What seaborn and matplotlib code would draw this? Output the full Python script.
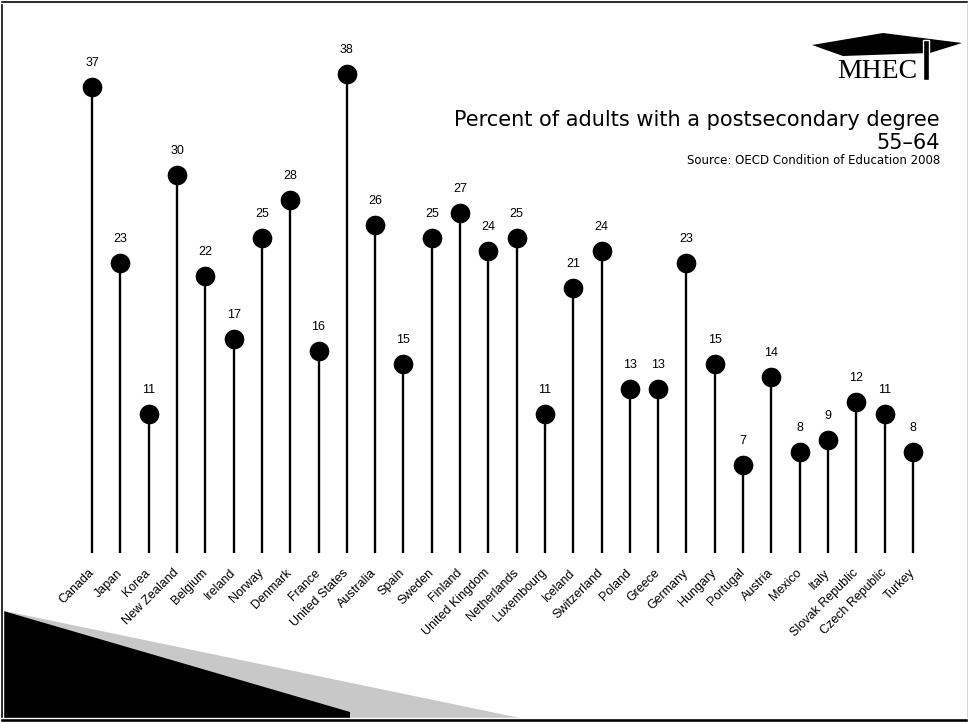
import numpy as np
import pandas as pd
import matplotlib
matplotlib.use("Agg")
import matplotlib.pyplot as plt
import seaborn as sns
from matplotlib.patches import Polygon, Rectangle

# === data ===
countries = ["Canada", "Japan", "Korea", "New Zealand", "Belgium", "Ireland", "Norway",
             "Denmark", "France", "United States", "Australia", "Spain", "Sweden",
             "Finland", "United Kingdom", "Netherlands", "Luxembourg", "Iceland",
             "Switzerland", "Poland", "Greece", "Germany", "Hungary", "Portugal",
             "Austria", "Mexico", "Italy", "Slovak Republic", "Czech Republic", "Turkey"]
values = [37, 23, 11, 30, 22, 17, 25, 28, 16, 38, 26, 15, 25, 27, 24, 25, 11, 21,
          24, 13, 13, 23, 15, 7, 14, 8, 9, 12, 11, 8]

title = "Percent of adults with a postsecondary degree"
subtitle = "55\u201364"
source = "Source: OECD Condition of Education 2008"

df = pd.DataFrame({"country": countries, "value": values})
df["pos"] = np.arange(len(df))

sns.set_style("white")
plt.rcParams["font.family"] = ["Liberation Sans", "DejaVu Sans"]
plt.rcParams["text.color"] = "black"
plt.rcParams["xtick.color"] = "black"

fig = plt.figure(figsize=(9.68, 7.22), dpi=100)
W, H = 968, 722

def fx(x):
    return x / W

def fy(y):
    return 1 - y / H

ax = fig.add_axes([fx(78), fy(553), fx(927) - fx(78), fy(49) - fy(553)])

# stems + heads
ax.vlines(df["pos"], 0, df["value"], color="black", lw=1.7, zorder=1)
sns.scatterplot(data=df, x="pos", y="value", ax=ax, s=200, color="black",
                edgecolor="black", linewidth=0, zorder=2, legend=False)

for p, v in zip(df["pos"], df["value"]):
    ax.annotate(str(v), (p, v), xytext=(0, 13), textcoords="offset points",
                ha="center", va="bottom", fontsize=9)

ax.set_xlim(-0.5, len(df) - 0.5)
ax.set_ylim(0, 40)
ax.set_xticks(df["pos"])
ax.set_xticklabels(df["country"], rotation=45, ha="right", va="center",
                   rotation_mode="anchor", fontsize=9)
ax.tick_params(axis="x", length=0, pad=13)
ax.set_yticks([])
ax.set_xlabel("")
ax.set_ylabel("")
sns.despine(ax=ax, left=True, bottom=True)

# title block
fig.text(fx(940), fy(120), title, ha="right", va="center", fontsize=15,
         family=["DejaVu Sans"])
fig.text(fx(940), fy(143), subtitle, ha="right", va="center", fontsize=15,
         family=["DejaVu Sans"])
fig.text(fx(940), fy(161), source, ha="right", va="center", fontsize=8.5,
         family=["DejaVu Sans"])

# MHEC logo
cap = Polygon([(fx(812), fy(45)), (fx(883), fy(33)), (fx(962), fy(43)),
               (fx(930), fy(53)), (fx(843), fy(56))], closed=True,
              transform=fig.transFigure, facecolor="black", edgecolor="none")
fig.patches.append(cap)
fig.patches.append(Rectangle((fx(923), fy(80)), fx(6), fy(40) - fy(80),
                             transform=fig.transFigure, facecolor="black"))
fig.text(fx(877), fy(71), "MHEC", ha="center", va="center", fontsize=20,
         family=["Liberation Serif"])

# bottom-left decoration
fig.patches.append(Polygon([(fx(0), fy(610)), (fx(520), fy(718)), (fx(520), fy(722)),
                            (fx(0), fy(722))], closed=True, transform=fig.transFigure,
                           facecolor="#c8c8c8", edgecolor="none"))
fig.patches.append(Polygon([(fx(0), fy(610)), (fx(350), fy(712)), (fx(350), fy(722)),
                            (fx(0), fy(722))], closed=True, transform=fig.transFigure,
                           facecolor="black", edgecolor="none"))

# frame
fig.patches.append(Rectangle((fx(966), 0), fx(2), 1, transform=fig.transFigure,
                             facecolor="#bbbbbb"))
fig.patches.append(Rectangle((0, 0), fx(3), 1, transform=fig.transFigure,
                             facecolor="black"))
fig.patches.append(Rectangle((0, fy(3)), 1, 1 - fy(3), transform=fig.transFigure,
                             facecolor="black"))
fig.patches.append(Rectangle((0, 0), 1, fy(718), transform=fig.transFigure,
                             facecolor="black"))

fig.savefig("out.png", dpi=100)
